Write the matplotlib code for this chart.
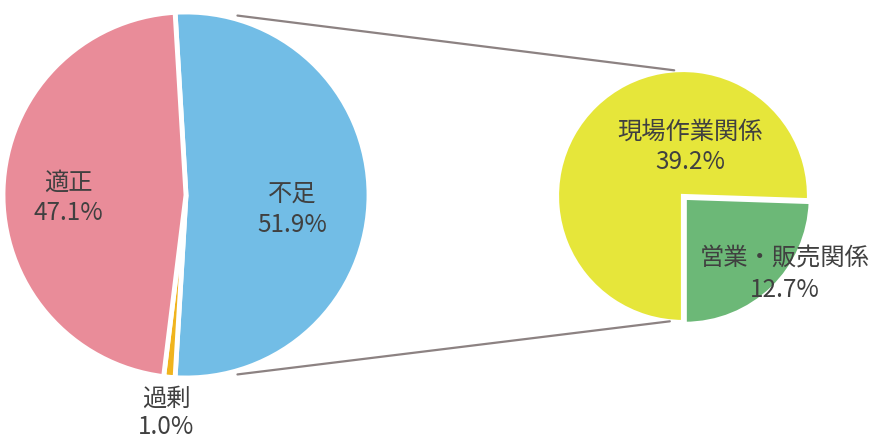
import numpy as np
import matplotlib
matplotlib.use("Agg")
import matplotlib.pyplot as plt
from matplotlib.patches import ConnectionPatch

plt.rcParams['font.family'] = ['Noto Sans CJK JP', 'DejaVu Sans']

# main pie
main_labels = ["不足", "過剰", "適正"]
main_values = [51.9, 1.0, 47.1]
main_colors = ["#72BDE6", "#F0B41E", "#E98C99"]

# breakdown of 不足
sub_labels = ["現場作業関係", "営業・販売関係"]
sub_values = [39.2, 12.7]
sub_colors = ["#E6E63A", "#6CB877"]

W, H = 872, 441
fig = plt.figure(figsize=(W / 100, H / 100), dpi=100)
fig.patch.set_facecolor("white")


def box(cx, cy, r):
    # axes rectangle in figure fraction from pixel center/radius
    return [(cx - r) / W, (H - cy - r) / H, 2 * r / W, 2 * r / H]


ax1 = fig.add_axes(box(186, 195, 183))
ax2 = fig.add_axes(box(683, 196, 126))

txt = dict(ha="center", va="center", color="#404040", fontsize=17.5, linespacing=1.25)

# left pie: 不足 slice centred on the right side
half = main_values[0] / 100 * 360 / 2
ax1.pie(main_values, colors=main_colors, startangle=half, counterclock=False,
        radius=1, wedgeprops=dict(edgecolor="white", linewidth=3.5))
ax1.set_xlim(-1, 1); ax1.set_ylim(-1, 1); ax1.set_aspect("equal"); ax1.axis("off")
ax1.text(0.58, -0.08, f"{main_labels[0]}\n{main_values[0]:.1f}%", **txt)
ax1.text(-0.645, -0.016, f"{main_labels[2]}\n{main_values[2]:.1f}%", **txt)
low = dict(txt, linespacing=1.12)
ax1.text(-0.11, -1.19, f"{main_labels[1]}\n{main_values[1]:.1f}%", clip_on=False, **low)

# right pie: breakdown
ax2.pie(sub_values, colors=sub_colors, startangle=270, counterclock=False,
        radius=1, explode=[0, 0.02],
        wedgeprops=dict(edgecolor="white", linewidth=3))
ax2.set_xlim(-1, 1); ax2.set_ylim(-1, 1); ax2.set_aspect("equal"); ax2.axis("off")
ax2.text(0.056, 0.39, f"{sub_labels[0]}\n{sub_values[0]:.1f}%", **txt)
ax2.text(0.81, -0.62, f"{sub_labels[1]}\n{sub_values[1]:.1f}%", clip_on=False, **txt)

# connector lines
for a1, a2 in [(74, 94), (-74, -96)]:
    p1 = (1.02 * np.cos(np.radians(a1)), 1.02 * np.sin(np.radians(a1)))
    p2 = (np.cos(np.radians(a2)), np.sin(np.radians(a2)))
    con = ConnectionPatch(xyA=p1, coordsA=ax1.transData, xyB=p2, coordsB=ax2.transData,
                          color="#8C8282", linewidth=1.6)
    fig.add_artist(con)

fig.savefig("out.png", dpi=100, facecolor="white")
